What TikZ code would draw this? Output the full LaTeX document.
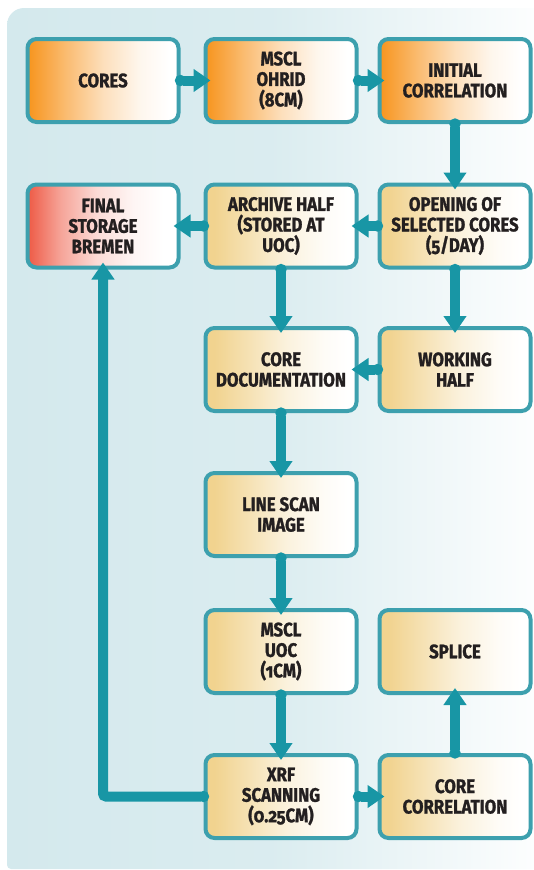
\documentclass[tikz,border=0pt]{standalone}
\usepackage{fontspec}
\setmainfont{Fira Sans}[FakeStretch=0.86,Numbers=OldStyle,BoldFeatures={FakeBold=1.3}]
\usetikzlibrary{arrows.meta}

\definecolor{flowteal}{HTML}{1896A5}
\definecolor{boxedge}{HTML}{3DA0AE}
\definecolor{paneblue}{HTML}{D4E9ED}
\definecolor{coreorange}{HTML}{F7941D}
\definecolor{stepbeige}{HTML}{F1D38F}
\definecolor{storered}{HTML}{EE5A45}
\definecolor{inktext}{HTML}{231F20}

\pgfdeclarehorizontalshading{panelfade}{100bp}{color(0bp)=(paneblue); color(25bp)=(paneblue); color(50bp)=(paneblue!85!white); color(75bp)=(white!96!paneblue); color(100bp)=(white)}
\pgfdeclarehorizontalshading{orangefade}{100bp}{color(0bp)=(coreorange); color(25bp)=(coreorange); color(37bp)=(coreorange!65!white); color(50bp)=(coreorange!30!white); color(62bp)=(coreorange!8!white); color(72bp)=(white); color(100bp)=(white)}
\pgfdeclarehorizontalshading{beigefade}{100bp}{color(0bp)=(stepbeige); color(28bp)=(stepbeige); color(40bp)=(stepbeige!65!white); color(52bp)=(stepbeige!30!white); color(64bp)=(stepbeige!8!white); color(72bp)=(white); color(100bp)=(white)}
\pgfdeclarehorizontalshading{redfade}{100bp}{color(0bp)=(storered); color(25bp)=(storered); color(36bp)=(storered!55!white); color(48bp)=(storered!22!white); color(60bp)=(storered!6!white); color(70bp)=(white); color(100bp)=(white)}

\begin{document}
\begin{tikzpicture}[x=1pt,y=-1pt,
    stepbox/.style={draw=boxedge, line width=4pt, rounded corners=9pt,
      minimum width=151pt, minimum height=83pt, inner sep=0pt, align=center,
      text=inktext, font=\bfseries\fontsize{19.5}{20.5}\selectfont, shading=beigefade},
    startbox/.style={stepbox, shading=orangefade},
    endbox/.style={stepbox, shading=redfade},
    flow/.style={draw=flowteal, line width=10pt,
      {Circle[length=11pt]}-{Triangle[width=22pt,length=17pt]},
      shorten <=-5.5pt, shorten >=-7pt}]
  \useasboundingbox (0,0) rectangle (534,870);

  % background panel
  \shade[shading=panelfade] (540,869) [rounded corners=4pt] -- (7,869)
    [rounded corners=17pt] -- (7,8) [sharp corners] -- (540,8) -- cycle;

  % first row
  \node [startbox] (cores) at (103,80.5) {CORES};
  \node [startbox] (msclohrid) at (281,80.5) {MSCL\\OHRID\\(8CM)};
  \node [startbox] (initcorr) at (455,80.5) {INITIAL\\CORRELATION};

  % opening and halves
  \node [endbox] (storage) at (103,226) {FINAL\\STORAGE\\BREMEN};
  \node [stepbox] (archive) at (281,226) {ARCHIVE HALF\\(STORED AT\\UOC)};
  \node [stepbox] (opening) at (455,226) {OPENING OF\\SELECTED CORES\\(5/DAY)};
  \node [stepbox] (coredoc) at (281,369.5) {CORE\\DOCUMENTATION};
  \node [stepbox] (working) at (455,369.5) {WORKING\\HALF};

  % scanning
  \node [stepbox] (linescan) at (281,514.5) {LINE SCAN\\IMAGE};
  \node [stepbox] (mscluoc) at (281,651.5) {MSCL\\UOC\\(1CM)};
  \node [stepbox] (splice) at (455,651.5) {SPLICE};
  \node [stepbox] (xrf) at (281,796.5) {XRF\\SCANNING\\(0.25CM)};
  \node [stepbox] (corecorr) at (455,796.5) {CORE\\CORRELATION};

  \draw [flow] (cores) -- (msclohrid);
  \draw [flow] (msclohrid) -- (initcorr);
  \draw [flow] (initcorr) -- (opening);
  \draw [flow] (opening) -- (archive);
  \draw [flow] (archive) -- (storage);
  \draw [flow] (archive) -- (coredoc);
  \draw [flow] (opening) -- (working);
  \draw [flow] (working) -- (coredoc);
  \draw [flow] (coredoc) -- (linescan);
  \draw [flow] (linescan) -- (mscluoc);
  \draw [flow] (mscluoc) -- (xrf);
  \draw [flow] (xrf) -- (corecorr);
  \draw [flow] (corecorr) -- (splice);
  \draw [flow, rounded corners=3pt] (xrf.west) -| (storage.south);
\end{tikzpicture}
\end{document}
